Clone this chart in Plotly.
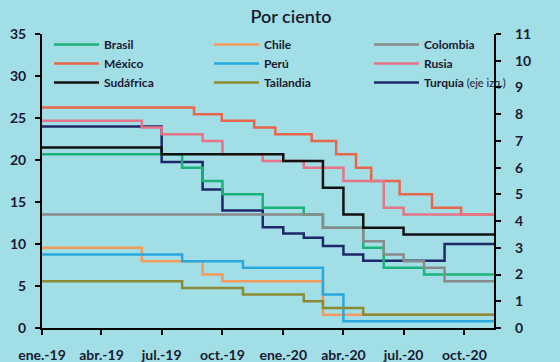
import plotly.graph_objects as go
from plotly.subplots import make_subplots

END = "2020-11-15"

brasil_dates = ["2019-01-01", "2019-08-01", "2019-09-01", "2019-10-01", "2019-12-01", "2020-02-01",
                "2020-03-01", "2020-05-01", "2020-06-01", "2020-08-01", END]
brasil_vals = [6.5, 6.0, 5.5, 5.0, 4.5, 4.25, 3.75, 3.0, 2.25, 2.0, 2.0]

chile_dates = ["2019-01-01", "2019-06-01", "2019-09-01", "2019-10-01", "2020-03-01", END]
chile_vals = [3.0, 2.5, 2.0, 1.75, 0.5, 0.5]

colombia_dates = ["2019-01-01", "2020-03-01", "2020-05-01", "2020-06-01", "2020-07-01", "2020-08-01",
                  "2020-09-01", END]
colombia_vals = [4.25, 3.75, 3.25, 2.75, 2.5, 2.25, 1.75, 1.75]

mexico_dates = ["2019-01-01", "2019-08-19", "2019-09-30", "2019-11-18", "2019-12-20", "2020-02-13",
                "2020-03-21", "2020-04-20", "2020-05-13", "2020-06-25", "2020-08-13", "2020-09-26", END]
mexico_vals = [8.25, 8.0, 7.75, 7.5, 7.25, 7.0, 6.5, 6.0, 5.5, 5.0, 4.5, 4.25, 4.25]

peru_dates = ["2019-01-01", "2019-08-01", "2019-11-01", "2020-03-01", "2020-04-01", END]
peru_vals = [2.75, 2.5, 2.25, 1.25, 0.25, 0.25]

rusia_dates = ["2019-01-01", "2019-06-01", "2019-07-01", "2019-09-01", "2019-10-01", "2019-12-01",
               "2020-02-01", "2020-04-01", "2020-06-01", "2020-07-01", END]
rusia_vals = [7.75, 7.5, 7.25, 7.0, 6.5, 6.25, 6.0, 5.5, 4.5, 4.25, 4.25]

sudafrica_dates = ["2019-01-01", "2019-07-01", "2020-01-01", "2020-03-01", "2020-04-01", "2020-05-01",
                   "2020-07-01", END]
sudafrica_vals = [6.75, 6.5, 6.25, 5.25, 4.25, 3.75, 3.5, 3.5]

tailandia_dates = ["2019-01-01", "2019-08-01", "2019-11-01", "2020-02-01", "2020-03-01", "2020-05-01", END]
tailandia_vals = [1.75, 1.5, 1.25, 1.0, 0.75, 0.5, 0.5]

turquia_dates = ["2019-01-01", "2019-07-01", "2019-09-01", "2019-10-01", "2019-12-01", "2020-01-01",
                 "2020-02-01", "2020-03-01", "2020-04-01", "2020-05-01", "2020-09-01", END]
turquia_vals = [24, 19.75, 16.5, 14, 12, 11.25, 10.75, 9.75, 8.75, 8.0, 10.0, 10.0]

tick_dates = ["2019-01-01", "2019-04-01", "2019-07-01", "2019-10-01",
              "2020-01-01", "2020-04-01", "2020-07-01", "2020-10-01"]
tick_labels = ["ene.-19", "abr.-19", "jul.-19", "oct.-19", "ene.-20", "abr.-20", "jul.-20", "oct.-20"]

BG = "#a1dee6"
TXT = "#1a1a30"
FONT = "Lato"

series = [
    ("Brasil", brasil_dates, brasil_vals, "#1cb27a", False),
    ("Chile", chile_dates, chile_vals, "#f29a5c", False),
    ("Colombia", colombia_dates, colombia_vals, "#8a8a8a", False),
    ("México", mexico_dates, mexico_vals, "#e8664a", False),
    ("Perú", peru_dates, peru_vals, "#27a9df", False),
    ("Rusia", rusia_dates, rusia_vals, "#e67388", False),
    ("Sudáfrica", sudafrica_dates, sudafrica_vals, "#111111", False),
    ("Tailandia", tailandia_dates, tailandia_vals, "#8c8a34", False),
    ("Turquía <span style='font-size:11px;font-weight:normal'>(eje izq.)</span>",
     turquia_dates, turquia_vals, "#1f2868", True),
]

fig = make_subplots(specs=[[{"secondary_y": True}]])
for name, d, v, c, left in series:
    fig.add_trace(
        go.Scatter(x=d, y=v, name=name, mode="lines",
                   line=dict(color=c, width=2.5, shape="hv")),
        secondary_y=not left,
    )

axis_common = dict(showline=True, linecolor="black", linewidth=2, ticks="outside",
                   ticklen=5, tickwidth=2, tickcolor="black", showgrid=False, zeroline=False,
                   tickfont=dict(family=FONT, size=14, color=TXT, weight="bold"))

fig.update_xaxes(range=["2019-01-01", END], tickvals=tick_dates, ticktext=tick_labels,
                 ticklabelstandoff=8, **axis_common)
fig.update_yaxes(range=[0, 35], dtick=5, ticklabelstandoff=6, secondary_y=False, **axis_common)
fig.update_yaxes(range=[0, 11], dtick=1, ticklabelstandoff=11, secondary_y=True, **axis_common)

fig.update_layout(
    width=560, height=362,
    margin=dict(l=42, r=37, t=34, b=34, autoexpand=False),
    paper_bgcolor=BG, plot_bgcolor=BG,
    font=dict(family=FONT, color=TXT),
    title=dict(text="Por ciento", x=291 / 560, y=1 - 17 / 362, xref="container", yref="container",
               xanchor="center", yanchor="middle",
               font=dict(family=FONT, size=18, color=TXT, weight=600)),
    showlegend=True,
    legend=dict(orientation="h", xref="container", yref="container",
                x=49 / 560, y=1 - 30 / 362, xanchor="left", yanchor="top",
                entrywidth=100, entrywidthmode="pixels", traceorder="normal",
                bgcolor="rgba(0,0,0,0)", font=dict(family=FONT, size=12, color=TXT, weight="bold"),
                itemwidth=45),
)

fig.write_html("out.html", config={"displayModeBar": False},
               post_script="document.body.style.margin='0';document.body.style.background='%s';" % BG)
